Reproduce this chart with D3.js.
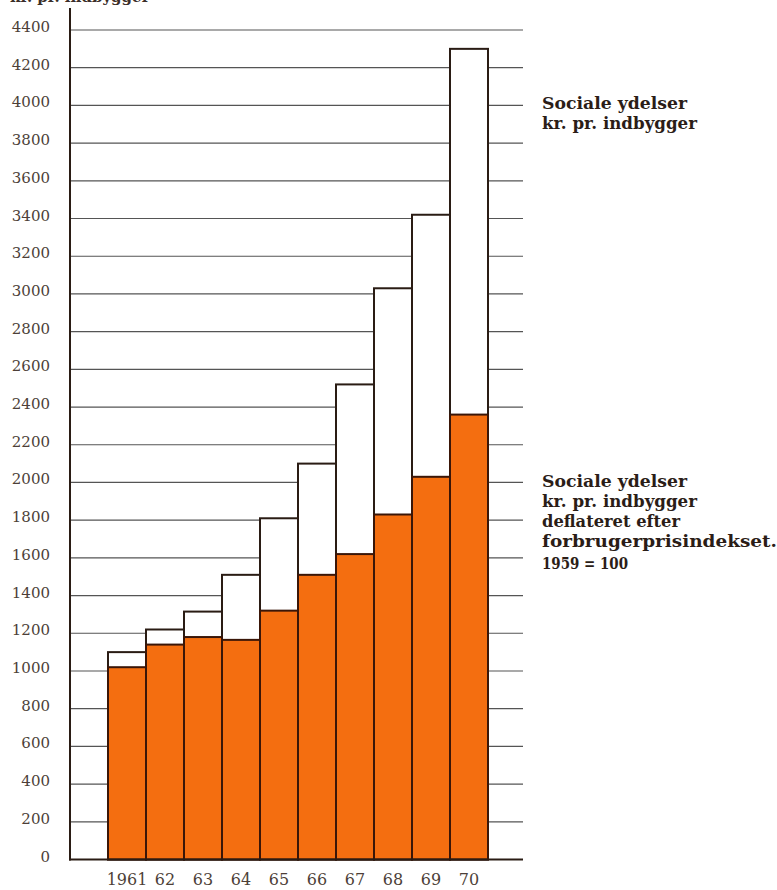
<!DOCTYPE html>
<html>
<head>
<meta charset="utf-8">
<script src="https://cdn.jsdelivr.net/npm/d3@7/dist/d3.min.js"></script>
<style>
  html, body { margin: 0; padding: 0; background: #ffffff; }
  svg { display: block; }
</style>
</head>
<body>
<svg id="chart" width="777" height="890"></svg>
<script>
// ---- data ----
const years = ["1961", "62", "63", "64", "65", "66", "67", "68", "69", "70"];
const nominal = [1100, 1220, 1315, 1510, 1810, 2100, 2520, 3030, 3420, 4300];
const deflated = [1020, 1140, 1180, 1165, 1320, 1510, 1620, 1830, 2030, 2360];
const yTicks = [0, 200, 400, 600, 800, 1000, 1200, 1400, 1600, 1800, 2000, 2200,
                2400, 2600, 2800, 3000, 3200, 3400, 3600, 3800, 4000, 4200, 4400];
const gridTicks = [200, 400, 600, 800, 1000, 1200, 1400, 1600, 1800, 2000, 2200,
                2400, 2600, 2800, 3000, 3200, 3400, 3600, 3800, 4000, 4200, 4400];
const axisTitle = "kr. pr. indbygger";
const legend1 = ["Sociale ydelser", "kr. pr. indbygger"];
const legend2 = ["Sociale ydelser", "kr. pr. indbygger", "deflateret efter",
                 "forbrugerprisindekset.", "1959 = 100"];

// ---- layout ----
const svg = d3.select("#chart");
const axisX = 70, gridRight = 523;
const y = d3.scaleLinear().domain([0, 4400]).range([859.5, 30]);
const x = d3.scaleBand().domain(years).range([108, 488]).padding(0);

const ink = "#2a1c14";
const labelCol = "#4d3f38";
const orange = "#f46e10";
const serif = "'DejaVu Serif', 'Liberation Serif', serif";

// gridlines
svg.append("g").selectAll("line").data(gridTicks).join("line")
  .attr("x1", axisX).attr("x2", gridRight)
  .attr("y1", d => y(d)).attr("y2", d => y(d))
  .attr("stroke", "#555555").attr("stroke-width", 1.2);

// bars: nominal (white) then deflated (orange)
const bars = svg.append("g");
bars.selectAll("rect.nom").data(years).join("rect")
  .attr("class", "nom")
  .attr("x", d => x(d)).attr("width", x.bandwidth())
  .attr("y", (d, i) => y(nominal[i]))
  .attr("height", (d, i) => y(0) - y(nominal[i]))
  .attr("fill", "#ffffff").attr("stroke", ink).attr("stroke-width", 2);
bars.selectAll("rect.def").data(years).join("rect")
  .attr("class", "def")
  .attr("x", d => x(d)).attr("width", x.bandwidth())
  .attr("y", (d, i) => y(deflated[i]))
  .attr("height", (d, i) => y(0) - y(deflated[i]))
  .attr("fill", orange).attr("stroke", "#3a1608").attr("stroke-width", 2);

// axes lines
svg.append("line").attr("x1", axisX).attr("x2", axisX)
  .attr("y1", 8).attr("y2", y(0) + 1)
  .attr("stroke", ink).attr("stroke-width", 2);
svg.append("line").attr("x1", axisX - 1).attr("x2", gridRight)
  .attr("y1", y(0)).attr("y2", y(0))
  .attr("stroke", ink).attr("stroke-width", 2);

// y tick labels via axis
const yAxis = svg.append("g")
  .attr("transform", `translate(${axisX - 20},0)`)
  .call(d3.axisLeft(y).tickValues(yTicks).tickSize(0).tickPadding(0).tickFormat(d3.format("d")));
yAxis.select(".domain").remove();
yAxis.selectAll("text")
  .attr("font-family", serif).attr("font-size", 15)
  .attr("fill", labelCol).attr("dy", "0.1em");

// x tick labels via axis
const xAxis = svg.append("g")
  .attr("transform", `translate(0,${y(0)})`)
  .call(d3.axisBottom(x).tickSize(0).tickPadding(0));
xAxis.select(".domain").remove();
xAxis.selectAll("text")
  .attr("font-family", serif).attr("font-size", 16)
  .attr("fill", labelCol).attr("dy", 0).attr("y", 25);

// axis title at the top (cut off by the page edge, as in the reference)
svg.append("text").attr("x", 10).attr("y", 2)
  .attr("font-family", serif).attr("font-size", 15).attr("font-weight", "bold")
  .attr("fill", "#3a2e29").text(axisTitle);

// legend texts
function legend(lines, x0, baselines, widths) {
  const g = svg.append("g");
  g.selectAll("text").data(lines).join("text")
    .attr("x", x0).attr("y", (d, i) => baselines[i])
    .attr("font-family", serif).attr("font-size", 16).attr("font-weight", "bold")
    .attr("fill", "#2b1d17")
    .attr("textLength", (d, i) => widths[i])
    .attr("lengthAdjust", "spacingAndGlyphs")
    .text(d => d);
}
legend(legend1, 542, [109, 129], [145, 155]);
legend(legend2, 542, [487, 507, 527, 547, 569], [145, 155, 138, 235, 86]);
</script>
</body>
</html>
